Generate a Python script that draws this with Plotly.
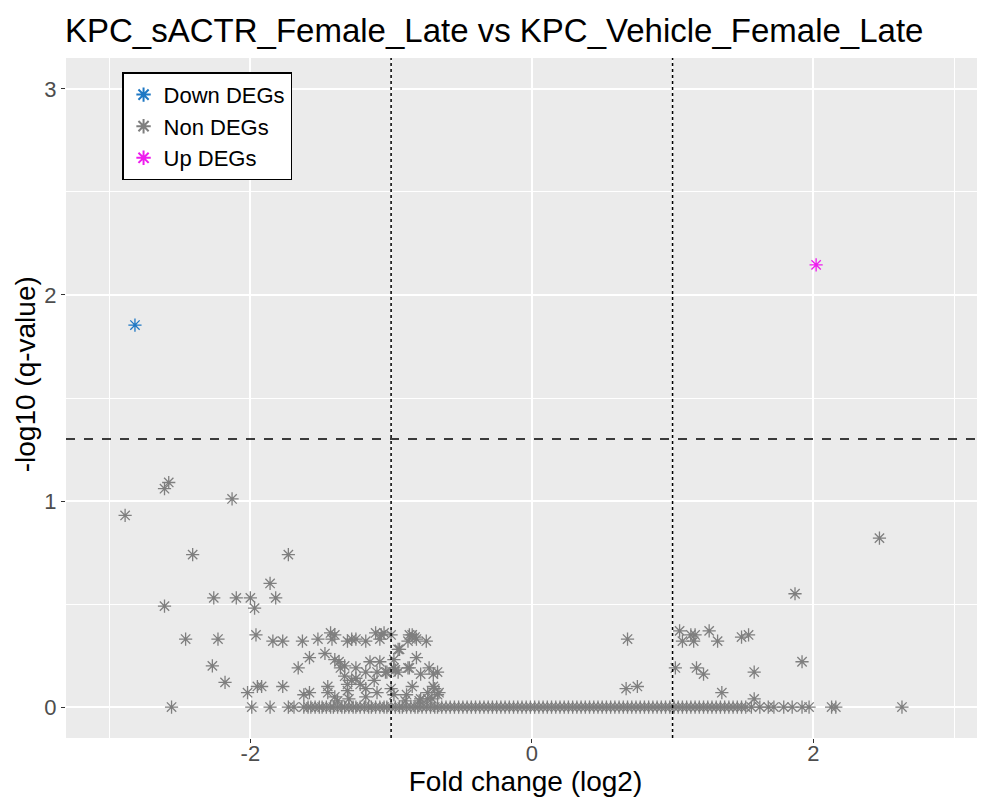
import plotly.graph_objects as go

# Down-regulated DEGs
down_x = [-2.82]
down_y = [1.854]

# Up-regulated DEGs
up_x = [2.02]
up_y = [2.146]

# Non DEGs (scattered)
non_x = [-2.89, -2.61, -2.58, -2.13, -2.41, -1.73, -2.61, -2.26, -2.10, -2.00,
         -1.86, -1.82, -1.97, -2.46, -2.23, -1.96, -1.84, -1.77, -1.63, -1.52,
         -1.43, -1.40, -1.42, -1.31, -1.28, -1.25, -1.18, -1.11, -1.07, -1.05,
         -1.00, -1.08, -0.87, -0.85, -0.82, -0.75, -0.88, -0.83,
         -1.58, -1.47, -1.40, -1.66, -2.27, -2.18, -2.02, -1.95, -1.92, -1.77,
         -2.56, -1.99, -1.86, -1.73, -1.69,
         -0.95, -0.82, -1.33, -1.33, -1.25, -1.25, -1.18, -1.15, -1.08, -1.10,
         -1.12, -1.03, -0.98, -0.95, -0.87, -0.79, -0.73, -0.70, -0.67, -1.62,
         -1.58, -1.45, -1.45, -1.31, -1.30, -1.31, -1.18, -1.18, -1.10, -1.00,
         -0.98, -0.89, -0.85, -0.79, -0.74, -0.70, -0.67, -0.74, -0.71, -1.28,
         -1.22, -0.94, -0.98, -0.88, -1.04, -0.97, -0.69, -0.66, -0.90, -0.80,
         -1.38, -1.40, -1.36, -1.37,
         0.68, 0.67, 0.75, 1.05, 1.07, 1.13, 1.16, 1.15, 1.26, 1.32,
         1.49, 1.54, 1.02, 1.17, 1.22, 1.58, 1.92, 1.35, 1.58, 1.87, 2.47,
         1.56, 1.62, 1.68, 1.72, 1.79, 1.85, 1.92, 1.97, 2.13, 2.16, 2.63]
non_y = [0.93, 1.06, 1.09, 1.01, 0.74, 0.74, 0.49, 0.53, 0.53, 0.53,
         0.60, 0.53, 0.48, 0.33, 0.33, 0.35, 0.32, 0.32, 0.32, 0.33,
         0.36, 0.35, 0.33, 0.32, 0.33, 0.33, 0.32, 0.36, 0.35, 0.36,
         0.35, 0.33, 0.35, 0.35, 0.33, 0.32, 0.32, 0.34,
         0.24, 0.26, 0.23, 0.19, 0.20, 0.12, 0.07, 0.10, 0.10, 0.10,
         0.0, 0.0, 0.0, 0.0, 0.0,
         0.28, 0.24, 0.20, 0.15, 0.19, 0.14, 0.17, 0.22, 0.22, 0.17,
         0.13, 0.17, 0.19, 0.17, 0.19, 0.16, 0.19, 0.16, 0.17, 0.06,
         0.07, 0.10, 0.07, 0.08, 0.04, 0.11, 0.09, 0.05, 0.07, 0.09,
         0.06, 0.06, 0.10, 0.04, 0.07, 0.10, 0.06, 0.04, 0.04, 0.13,
         0.11, 0.28, 0.23, 0.19, 0.17, 0.18, 0.09, 0.07, 0.03, 0.03,
         0.03, 0.05, 0.19, 0.22,
         0.33, 0.09, 0.10, 0.37, 0.32, 0.35, 0.35, 0.32, 0.37, 0.32,
         0.34, 0.35, 0.19, 0.19, 0.16, 0.17, 0.22, 0.07, 0.04, 0.55, 0.82,
         0.0, 0.0, 0.0, 0.0, 0.0, 0.0, 0.0, 0.0, 0.0, 0.0, 0.0]

# Non DEGs packed along q = 1 (-log10 = 0)
band_x = [-1.62, -1.59, -1.57, -1.54, -1.51, -1.49, -1.46, -1.43, -1.41, -1.38,
          -1.35, -1.33, -1.30, -1.27, -1.25, -1.22, -1.19, -1.16, -1.14, -1.11,
          -1.08, -1.05, -1.03, -1.00, -0.97, -0.94, -0.92, -0.89, -0.86, -0.83,
          -0.81, -0.78, -0.75, -0.72, -0.69, -0.67, -0.64, -0.61, -0.58, -0.55,
          -0.52, -0.49, -0.46, -0.43, -0.40, -0.37, -0.34, -0.31, -0.28, -0.25,
          -0.22, -0.19, -0.16, -0.13, -0.10, -0.07, -0.04, -0.01, 0.02, 0.05,
          0.08, 0.11, 0.14, 0.17, 0.20, 0.23, 0.26, 0.29, 0.32, 0.35,
          0.38, 0.41, 0.44, 0.47, 0.50, 0.53, 0.56, 0.59, 0.62, 0.65,
          0.68, 0.71, 0.74, 0.77, 0.80, 0.83, 0.86, 0.89, 0.92, 0.95,
          0.98, 1.01, 1.04, 1.07, 1.10, 1.13, 1.16, 1.19, 1.22, 1.25,
          1.28, 1.31, 1.34, 1.37, 1.40, 1.43, 1.46, 1.49, 1.52]
band_y = [0.0] * len(band_x)

x_ticks = [-2, 0, 2]
y_ticks = [0, 1, 2, 3]
fc_cut = 1.0
q_cut = 1.301

title = "KPC_sACTR_Female_Late vs KPC_Vehicle_Female_Late"
x_title = "Fold change (log2)"
y_title = "-log10 (q-value)"

grey = "#7F7F7F"
blue = "#1F78C4"
mag = "#EE1BEE"
msize = 11
mline = 1.3

W, H = 977, 796

fig = go.Figure()
fig.add_trace(go.Scatter(x=down_x, y=down_y, mode="markers", name="Down DEGs",
                         marker=dict(symbol="asterisk-open", size=msize, color=blue,
                                     line=dict(color=blue, width=mline))))
fig.add_trace(go.Scatter(x=non_x + band_x, y=non_y + band_y, mode="markers", name="Non DEGs",
                         marker=dict(symbol="asterisk-open", size=msize, color=grey,
                                     line=dict(color=grey, width=mline))))
fig.add_trace(go.Scatter(x=up_x, y=up_y, mode="markers", name="Up DEGs",
                         marker=dict(symbol="asterisk-open", size=msize, color=mag,
                                     line=dict(color=mag, width=mline))))

for xv in (-fc_cut, fc_cut):
    fig.add_vline(x=xv, line=dict(color="black", width=1.5, dash="dot"))
fig.add_hline(y=q_cut, line=dict(color="black", width=1.5, dash="dash"))

fig.add_annotation(text=y_title, xref="paper", yref="paper",
                   x=-0.0445, y=0.535, xanchor="center", yanchor="middle",
                   textangle=-90, showarrow=False,
                   font=dict(size=28, color="black"))

fig.update_layout(
    width=W, height=H,
    margin=dict(l=58, r=0, t=50, b=66, autoexpand=False),
    paper_bgcolor="white",
    plot_bgcolor="#EBEBEB",
    font=dict(family="Liberation Sans, Arial, sans-serif", color="black"),
    title=dict(text=title, x=57 / W, xanchor="left", xref="container",
               y=1 - 22 / H, yanchor="middle", yref="container", automargin=False,
               font=dict(family="Liberation Sans, Arial", size=33, color="black")),
    showlegend=True,
    legend=dict(x=0.061, y=0.979, xanchor="left", yanchor="top",
                bgcolor="white", bordercolor="black", borderwidth=1.5,
                font=dict(size=22, color="black"), itemsizing="constant",
                tracegroupgap=0),
    xaxis=dict(range=[-3.31, 3.22], tickvals=x_ticks, ticktext=[str(v) for v in x_ticks],
               showgrid=True, gridcolor="white", gridwidth=1.6, zeroline=False,
               minor=dict(tickvals=[-3, -1, 1, 3], showgrid=True, gridcolor="white", gridwidth=0.7),
               ticks="outside", ticklen=4, tickcolor="#333333", tickwidth=1.2,
               tickfont=dict(size=22, color="#4D4D4D"), automargin=False,
               ticklabelstandoff=-8,
               title=dict(text=x_title, font=dict(size=28, color="black"), standoff=0),
               showline=False),
    yaxis=dict(range=[-0.15, 3.15], tickvals=y_ticks, ticktext=[str(v) for v in y_ticks],
               showgrid=True, gridcolor="white", gridwidth=1.6, zeroline=False,
               minor=dict(tickvals=[0.5, 1.5, 2.5], showgrid=True, gridcolor="white", gridwidth=0.7),
               ticks="outside", ticklen=4, tickcolor="#333333", tickwidth=1.2,
               tickfont=dict(size=22, color="#4D4D4D"), automargin=False,
               showline=False),
)

fig.write_html("out.html")
